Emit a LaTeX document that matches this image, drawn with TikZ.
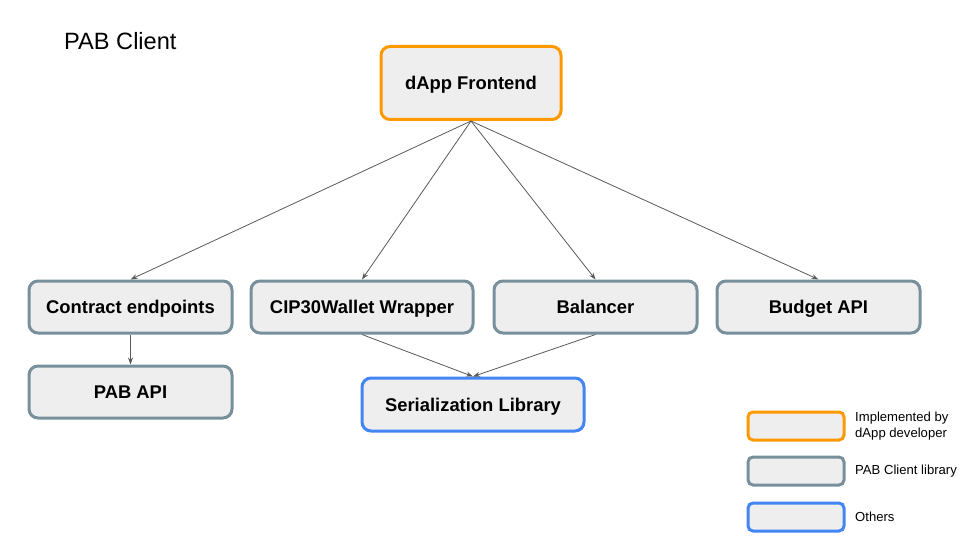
\documentclass[tikz,border=0pt]{standalone}
\usepackage{fontspec}
\setmainfont{Liberation Sans}
\usetikzlibrary{arrows.meta}
\definecolor{devorange}{HTML}{FF9900}
\definecolor{libgray}{HTML}{78909C}
\definecolor{othblue}{HTML}{4285F4}
\definecolor{boxfill}{HTML}{EEEEEE}
\definecolor{linkgray}{HTML}{595959}
\begin{document}
\begin{tikzpicture}[
x=1pt,y=-1pt,
part/.style={draw,fill=boxfill,line width=3pt,rounded corners=9pt,
  minimum width=203pt,minimum height=52pt,inner sep=0pt,
  text height=13.2pt,text depth=0pt,
  font=\fontsize{18.4}{22}\selectfont\bfseries},
dev/.style={part,draw=devorange},
lib/.style={part,draw=libgray},
oth/.style={part,draw=othblue},
key/.style={minimum width=96pt,minimum height=28pt,rounded corners=5pt},
keytext/.style={anchor=west,align=left,inner sep=0pt,
  font=\fontsize{13.1}{16}\selectfont},
link/.style={draw=linkgray,line width=0.8pt,-{Stealth[length=7pt,width=5pt]}},
]
\useasboundingbox (0,0) rectangle (960,540);
\node[anchor=west,inner sep=0pt,font=\fontsize{23.6}{28}\selectfont] (title) at (64,41) {PAB Client};
\node[dev,minimum width=180pt,minimum height=73pt] (front) at (471,83) {dApp Frontend};
\node[lib] (endpoints) at (130.5,307) {Contract endpoints};
\node[lib,minimum width=222pt] (wallet) at (362,307) {CIP30Wallet Wrapper};
\node[lib] (balancer) at (595.5,307) {Balancer};
\node[lib] (budget) at (818.5,307) {Budget API};
\node[lib] (pabapi) at (130.5,392) {PAB API};
\node[oth,minimum width=222pt,minimum height=53pt] (serial) at (473,404.5) {Serialization Library};
% legend
\node[dev,key] (keydev) at (796,426) {};
\node[lib,key] (keylib) at (796,471) {};
\node[oth,key] (keyoth) at (796,517) {};
\node[keytext] at (855,426) {Implemented by\\dApp developer};
\node[keytext] at (855,471) {PAB Client library};
\node[keytext] at (855,517) {Others};
% links
\draw[link] (front.south) -- (endpoints.north);
\draw[link] (front.south) -- (wallet.north);
\draw[link] (front.south) -- (balancer.north);
\draw[link] (front.south) -- (budget.north);
\draw[link] (endpoints.south) -- (pabapi.north);
\draw[link] (wallet.south) -- (serial.north);
\draw[link] (balancer.south) -- (serial.north);
\end{tikzpicture}
\end{document}
